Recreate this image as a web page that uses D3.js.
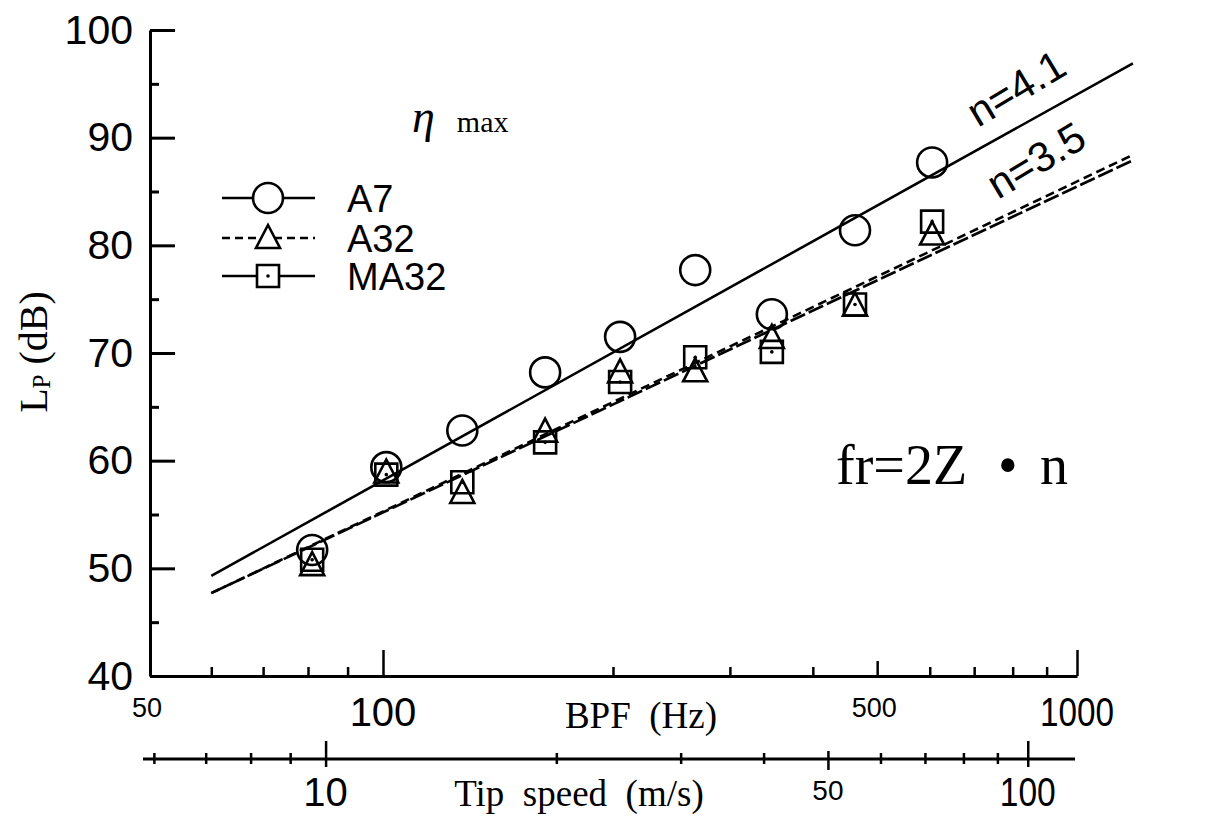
<!DOCTYPE html>
<html>
<head>
<meta charset="utf-8">
<script src="https://cdn.jsdelivr.net/npm/d3@7"></script>
<style>
  body { margin: 0; background: #fff; }
  svg { display: block; }
  .num { font-family: "Liberation Sans", Arial, sans-serif; fill: #000; }
  .ser { font-family: "Liberation Serif", "Times New Roman", serif; fill: #000; white-space: pre; }
  .axis path, .axis line { stroke: #000; }
</style>
</head>
<body>
<div id="chart"></div>
<script>
// blade passing frequency of each test point (Hz)
const bpf = [81, 101, 127, 163, 205, 266, 347, 463, 605];
// sound pressure level Lp (dB) per rotor
const lpA7 = [51.7, 59.4, 62.8, 68.2, 71.5, 77.7, 73.6, 81.4, 87.7];
const lpA32 = [50.3, 58.9, 57.0, 62.7, 68.2, 68.3, 71.4, 74.4, 81.0];
const lpMA32 = [50.8, 58.7, 58.0, 61.7, 67.3, 69.6, 70.1, 74.5, 82.2];

// fitted lines, end points
const fitBpf = [60, 1214];
const fitA7 = [49.3, 96.9];
const fitA32 = [47.7, 88.4];
const fitMA32 = [47.7, 87.9];

const seriesNames = ["A7", "A32", "MA32"];
const slopeLabels = ["n=4.1", "n=3.5"];

// ticks
const lpMajor = [40, 50, 60, 70, 80, 90, 100];
const lpMinor = [45, 55, 65, 75, 85, 95];
const bpfMinor = [60, 70, 80, 90, 200, 300, 400, 600, 700, 800, 900];
const bpfLong = [100, 1000];
const bpfMid = [500];
const bpfLabelsBig = [100, 1000];
const bpfLabelsSmall = [50, 500];
const tipMajor = [10, 100];
const tipMid = [50];
const tipMinor = [6, 7, 8, 9, 20, 30, 40, 60, 70, 80, 90];
const tipLabelsBig = [10, 100];
const tipLabelsSmall = [50];
const tipToBpf = 8.43;

const width = 1218, height = 822;
const svg = d3.select("#chart").append("svg")
  .attr("width", width)
  .attr("height", height);

// the printed log axis is not evenly spaced, so keep its break points
const x = d3.scaleLog()
  .domain([50, 100, 200, 1000])
  .range([150, 383, 613, 1077]);
const xTip = d3.scaleLog()
  .domain(x.domain().map(d => d / tipToBpf))
  .range(x.range());
const y = d3.scaleLinear().domain([40, 100]).range([676, 30]);

const plotY = 676, tipY = 759;

// Lp axis
svg.append("g").attr("class", "axis")
  .attr("transform", "translate(150,0)")
  .call(d3.axisLeft(y).tickValues(lpMajor).tickSize(-25).tickPadding(17).tickSizeOuter(0))
  .call(g => g.select(".domain").attr("stroke-width", 3))
  .call(g => g.selectAll(".tick line").attr("stroke-width", 3))
  .call(g => g.selectAll("text").attr("class", "num").style("font-size", "41px").attr("font-family", null));
svg.append("g").attr("class", "axis")
  .attr("transform", "translate(150,0)")
  .call(d3.axisLeft(y).tickValues(lpMinor).tickSize(-9).tickFormat("").tickSizeOuter(0))
  .call(g => g.select(".domain").remove())
  .call(g => g.selectAll(".tick line").attr("stroke-width", 3));

// BPF axis
function bpfTicks(vals, len, keepDomain) {
  svg.append("g").attr("class", "axis")
    .attr("transform", `translate(0,${plotY})`)
    .call(d3.axisBottom(x).tickValues(vals).tickSize(-len).tickFormat("").tickSizeOuter(0))
    .call(g => keepDomain ? g.select(".domain").attr("stroke-width", 3) : g.select(".domain").remove())
    .call(g => g.selectAll(".tick line").attr("stroke-width", 2.5));
}
bpfTicks(bpfMinor, 9, true);
bpfTicks(bpfLong, 26, false);
bpfTicks(bpfMid, 15, false);

svg.selectAll(".bpfBig").data(bpfLabelsBig).join("text")
  .attr("class", "num").attr("x", d => x(d)).attr("y", 726)
  .attr("text-anchor", "middle").style("font-size", "40px")
  .attr("textLength", d => d >= 1000 ? 74 : null).attr("lengthAdjust", "spacingAndGlyphs")
  .text(d => d);
svg.selectAll(".bpfSmall").data(bpfLabelsSmall).join("text")
  .attr("class", "num").attr("x", d => x(d) - 3).attr("y", 717)
  .attr("text-anchor", "middle").style("font-size", "27px").text(d => d);
svg.append("text").attr("class", "ser")
  .attr("x", 641).attr("y", 728).attr("text-anchor", "middle")
  .style("font-size", "37px").text("BPF  (Hz)");

// tip speed axis
function tipTicks(vals, up, down, keepDomain) {
  svg.append("g").attr("class", "axis")
    .attr("transform", `translate(0,${tipY})`)
    .call(d3.axisBottom(xTip).tickValues(vals).tickFormat("").tickSizeOuter(0))
    .call(g => keepDomain ? g.select(".domain").attr("stroke-width", 3).attr("d", "M143,0H1075") : g.select(".domain").remove())
    .call(g => g.selectAll(".tick line").attr("y1", -up).attr("y2", down).attr("stroke-width", 2.5));
}
tipTicks(tipMinor, 6, 5, true);
tipTicks(tipMajor, 18, 8, false);
tipTicks(tipMid, 8, 11, false);

svg.selectAll(".tipBig").data(tipLabelsBig).join("text")
  .attr("class", "num").attr("x", d => xTip(d)).attr("y", 806)
  .attr("text-anchor", "middle").style("font-size", "40px")
  .attr("textLength", d => d >= 100 ? 56 : null).attr("lengthAdjust", "spacingAndGlyphs")
  .text(d => d);
svg.selectAll(".tipSmall").data(tipLabelsSmall).join("text")
  .attr("class", "num").attr("x", d => xTip(d)).attr("y", 800)
  .attr("text-anchor", "middle").style("font-size", "28px").text(d => d);
svg.append("text").attr("class", "ser")
  .attr("x", 579).attr("y", 806).attr("text-anchor", "middle")
  .style("font-size", "37px").text("Tip  speed  (m/s)");

// y title
const yt = svg.append("text").attr("class", "ser")
  .attr("transform", "translate(47,352) rotate(-90)")
  .attr("text-anchor", "middle").style("font-size", "40px");
yt.append("tspan").text("L");
yt.append("tspan").style("font-size", "25px").attr("dy", 3).text("P");
yt.append("tspan").attr("dy", -3).text(" (dB)");

// fitted lines
const line = d3.line().x(d => x(d[0])).y(d => y(d[1]));
const fits = [
  { vals: fitA7, dash: null },
  { vals: fitA32, dash: "9,5" },
  { vals: fitMA32, dash: "16,4" }
];
svg.selectAll(".fit").data(fits).join("path")
  .attr("class", "fit")
  .attr("d", f => line(d3.zip(fitBpf, f.vals)))
  .attr("fill", "none").attr("stroke", "#000").attr("stroke-width", 2.6)
  .attr("stroke-dasharray", f => f.dash);

// markers
const tri = "M0,-13L12,10L-12,10Z";
const sq = "M-11,-11H11V11H-11Z";
function drawCircle(g) {
  g.append("circle").attr("r", 15).attr("fill", "none").attr("stroke", "#000").attr("stroke-width", 2.6);
}
function drawTri(g) {
  g.append("path").attr("d", tri).attr("fill", "none").attr("stroke", "#000").attr("stroke-width", 2.6);
}
function drawSq(g) {
  g.append("path").attr("d", sq).attr("fill", "none").attr("stroke", "#000").attr("stroke-width", 2.6);
  g.append("circle").attr("r", 1.8).attr("fill", "#000");
}
const pts = (vals) => d3.zip(bpf, vals);
svg.selectAll(".mA7").data(pts(lpA7)).join("g")
  .attr("transform", d => `translate(${x(d[0])},${y(d[1])})`).each(function () { drawCircle(d3.select(this)); });
svg.selectAll(".mA32").data(pts(lpA32)).join("g")
  .attr("transform", d => `translate(${x(d[0])},${y(d[1])})`).each(function () { drawTri(d3.select(this)); });
svg.selectAll(".mMA32").data(pts(lpMA32)).join("g")
  .attr("transform", d => `translate(${x(d[0])},${y(d[1])})`).each(function () { drawSq(d3.select(this)); });

// legend
const legendY = [198, 238, 276];
const legDash = [null, "8,5", null];
const legMark = [drawCircle, drawTri, drawSq];
seriesNames.forEach((name, i) => {
  const g = svg.append("g").attr("transform", `translate(0,${legendY[i]})`);
  g.append("line").attr("x1", 222).attr("x2", 315)
    .attr("stroke", "#000").attr("stroke-width", 2.6).attr("stroke-dasharray", legDash[i]);
  const m = g.append("g").attr("transform", "translate(268,0)");
  if (i === 0) m.append("circle").attr("r", 15).attr("fill", "#fff");
  if (i === 1) m.append("path").attr("d", tri).attr("fill", "#fff");
  if (i === 2) m.append("path").attr("d", sq).attr("fill", "#fff");
  legMark[i](m);
  g.append("text").attr("class", "num").attr("x", 347).attr("y", 14)
    .style("font-size", "38px").text(name);
});

// annotations
const eta = svg.append("text").attr("class", "ser").attr("x", 412).attr("y", 132);
eta.append("tspan").style("font-style", "italic").style("font-size", "46px").text("η");
eta.append("tspan").attr("dx", 22).style("font-size", "30px").text("max");

const fr = svg.append("text").attr("class", "ser").attr("y", 484).style("font-size", "56px");
fr.append("tspan").attr("x", 836).text("fr=2Z");
fr.append("tspan").attr("x", 998).text("•");
fr.append("tspan").attr("x", 1040).text("n");

const slopePos = [[978, 128], [998, 200]];
slopeLabels.forEach((t, i) => {
  svg.append("text").attr("class", "num")
    .attr("transform", `translate(${slopePos[i][0]},${slopePos[i][1]}) rotate(-31)`)
    .style("font-size", "42px").text(t);
});
</script>
</body>
</html>
